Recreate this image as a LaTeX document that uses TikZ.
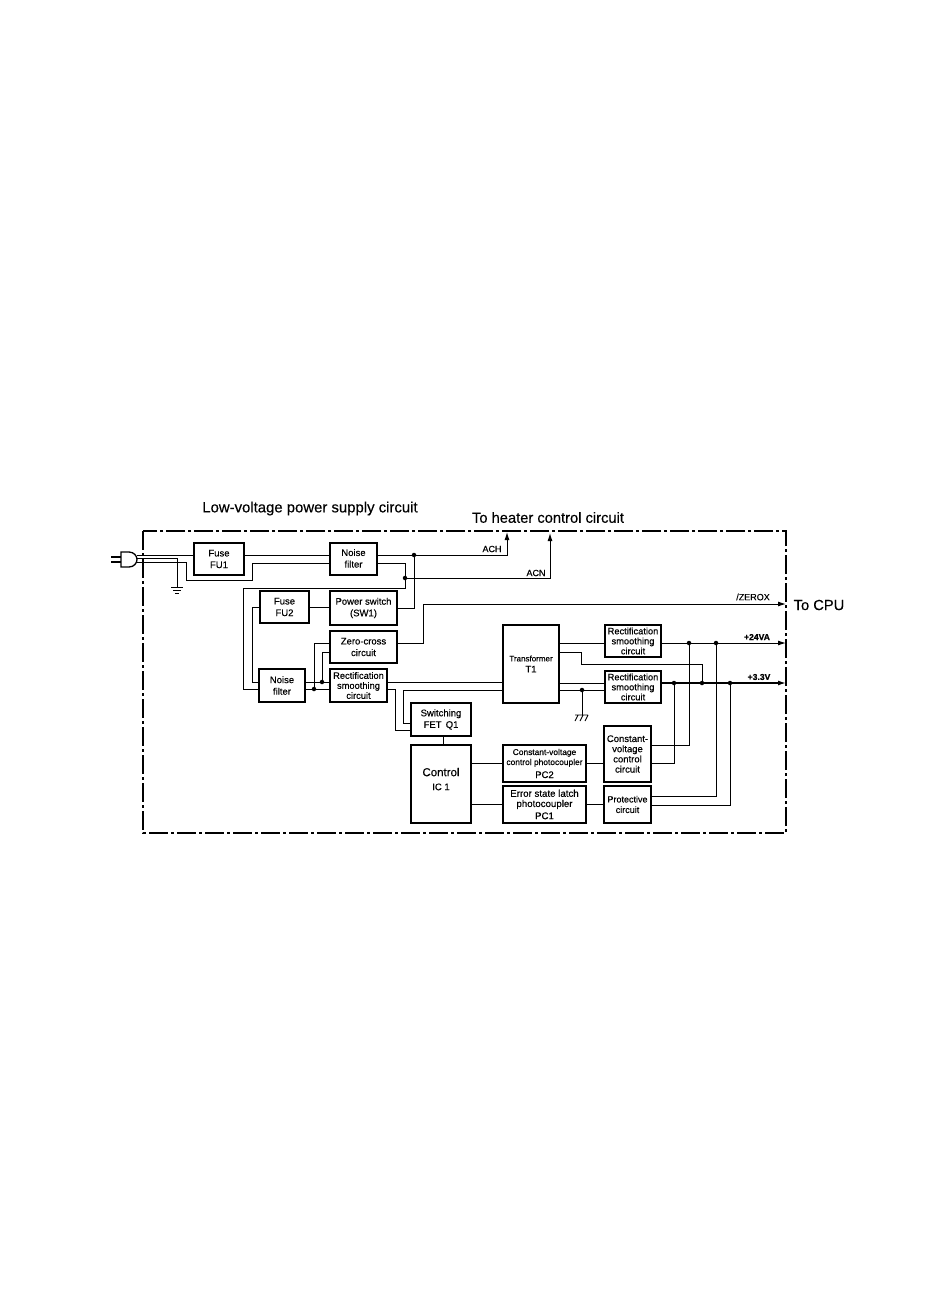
\documentclass[tikz,border=0pt]{standalone}
\usepackage{fontspec}
\setmainfont{Liberation Sans}[FakeBold=0.35]
\usetikzlibrary{arrows.meta, calc}

\begin{document}
\begin{tikzpicture}[
    x=1pt, y=-1pt,
    box/.style={draw, rectangle, line width=1.5pt, inner sep=0pt, align=center, fill=white, font=\fontsize{9.5}{11.6}\selectfont},
    rectbox/.style={box, minimum width=56pt, font=\fontsize{9.3}{10}\selectfont},
    smallbox/.style={box, font=\fontsize{8.4}{10}\selectfont},
    wire/.style={line width=0.9pt},
    arrow/.style={-{Latex[length=8pt,width=5pt]}, line width=1pt},
    dot/.style={circle, fill=black, inner sep=0pt, minimum size=4.5pt},
    labelstyle/.style={font=\fontsize{9}{10}\selectfont},
    titlestyle/.style={font=\fontsize{14.7}{16}\selectfont}
]
\useasboundingbox (0,0) rectangle (946,1310);

% Frame and titles
\draw[line width=1.3pt, dash pattern=on 19pt off 3pt on 3pt off 3pt] (143,531) rectangle (786,833);
\node[titlestyle, font=\fontsize{14.9}{16}\selectfont] (title) at (310,508.5) {Low-voltage power supply circuit};
\node[titlestyle] (heater) at (548,517.5) {To heater control circuit};
\node[titlestyle] (cpu) at (819,605) {To CPU};

% Column 1: Fuses and input filters
\node[box, minimum width=50pt, minimum height=32pt] (fuseA) at (219,559) {Fuse\\FU1};
\node[box, minimum width=47pt, minimum height=32pt] (noiseA) at (353.5,559) {\mbox{}\\[-6pt]Noise\\filter};
\node[box, minimum width=49pt, minimum height=32pt] (fuseB) at (284.5,607) {Fuse\\FU2};
\node[box, minimum width=67pt, minimum height=34pt] (switch) at (363.5,608) {Power switch\\(SW1)};
\node[box, minimum width=67pt, minimum height=32pt] (zero) at (363.5,647) {Zero-cross\\circuit};
\node[box, minimum width=46pt, minimum height=33pt] (noiseB) at (282,685.5) {Noise\\filter};
\node[rectbox, minimum width=57pt, minimum height=33pt] (rectA) at (358.5,685.5) {Rectification\\smoothing\\circuit};

% Column 2: Switching and control
\node[box, minimum width=60pt, minimum height=33pt] (fet) at (441,719.5) {Switching\\FET\, Q1};
\node[box, minimum width=60pt, minimum height=78pt, font=\fontsize{11.5}{13}\selectfont] (control) at (441,784) {Control\\[1pt]{\fontsize{9.5}{11}\selectfont IC 1}\\[-3pt]\mbox{}};

% Column 3: Transformer and photocouplers
\node[box, minimum width=56pt, minimum height=78pt, font=\fontsize{8}{11}\selectfont] (trans) at (531,664) {Transformer\\{\fontsize{9.5}{11}\selectfont T1}};
\node[smallbox, minimum width=83pt, minimum height=37pt] (pcB) at (544.5,763.5) {Constant-voltage\\control photocoupler\\[3pt]{\fontsize{9.5}{10}\selectfont PC2}};
\node[smallbox, minimum width=83pt, minimum height=37pt, font=\fontsize{9.7}{10.2}\selectfont] (pcA) at (544.5,804.5) {Error state latch\\photocoupler\\[2pt]PC1};

% Column 4: Output circuits
\node[rectbox, minimum height=32pt] (rectB) at (633,641) {Rectification\\smoothing\\circuit};
\node[rectbox, minimum height=32pt] (rectC) at (633,687) {Rectification\\smoothing\\circuit};
\node[box, minimum width=47pt, minimum height=56pt, font=\fontsize{9.5}{10.2}\selectfont] (voltage) at (627.5,754) {Constant-\\voltage\\control\\circuit};
\node[box, minimum width=47pt, minimum height=37pt, font=\fontsize{9}{10.5}\selectfont] (protect) at (627.5,804.5) {Protective\\circuit};

% Junctions
\node[dot] (achDot) at (414,555) {};
\node[dot] (acnDot) at (405,578) {};
\node[dot] (noiseDotA) at (322,682) {};
\node[dot] (noiseDotB) at (314,689) {};
\node[dot] (gndDot) at (582,690) {};
\node[dot] (busDotA) at (689,643) {};
\node[dot] (busDotB) at (716,643) {};
\node[dot] (busDotC) at (674,683) {};
\node[dot] (busDotD) at (702,683) {};
\node[dot] (busDotE) at (730,683) {};

% Free ends
\coordinate (plug) at (137,555);
\coordinate (achTip) at (507,532);
\coordinate (acnTip) at (550,533);
\coordinate (zeroxTip) at (786,604);
\coordinate (vaTip) at (786,643);
\coordinate (vTip) at (786,683);
\coordinate (earth) at (177,587);
\coordinate (chassis) at (582,715);

% Plug and earth symbols
\draw[line width=1.3pt] (121,552) -- (129,552) .. controls (134,552) and (137,556) .. (137,559.5) .. controls (137,563) and (134,567) .. (129,567) -- (121,567) -- cycle;
\draw[line width=1.1pt] (111,557) -- (121,557) (111,562) -- (121,562);
\draw[wire] (earth) ++(-6,0) -- ++(12,0) (earth) ++(-4,3) -- ++(8,0) (earth) ++(-2,6) -- ++(4,0);
\draw[wire] (chassis) ++(-7,0) -- ++(13,0) (chassis) ++(-7,6) -- ++(3,-6) (chassis) ++(-2,6) -- ++(3,-6) (chassis) ++(3,6) -- ++(3,-6);

% Connections: input side
\draw[wire] (plug) -- (fuseA.west |- plug);
\draw[wire] (137,558) -| (earth);
\draw[wire] (137,562) -| (186,580) -| (252,563) -- (noiseA.west |- 0,563);
\draw[wire] (fuseA.east |- 0,555) -- (noiseA.west |- 0,555);
\draw[wire] (noiseA.east |- 0,555) -- (achDot);
\draw[arrow] (achDot) -| (achTip);
\draw[wire] (achDot) |- (switch.east |- 0,608);
\draw[wire] (noiseA.east |- 0,563) -| (acnDot);
\draw[arrow] (acnDot) -| (acnTip);
\draw[wire] (acnDot) |- (243,588) |- (noiseB.west |- 0,689);
\draw[wire] (fuseB.east |- 0,607) -- (switch.west |- 0,607);
\draw[wire] (fuseB.west |- 0,607) -| (252,682) -- (noiseB.west |- 0,682);

% Connections: primary side
\draw[wire] (noiseB.east |- 0,682) -- (rectA.west |- 0,682);
\draw[wire] (noiseB.east |- 0,689) -- (rectA.west |- 0,689);
\draw[wire] (noiseDotB) |- (zero.west |- 0,643);
\draw[wire] (noiseDotA) |- (zero.west |- 0,652);
\draw[wire] (rectA.east |- 0,682) -- (trans.west |- 0,682);
\draw[wire] (rectA.east |- 0,689) -| (395,730) -- (fet.west |- 0,730);
\draw[wire] (trans.west |- 0,690) -| (403,723) -- (fet.west |- 0,723);
\draw[wire] (fet.south -| 443,0) -- (control.north -| 443,0);
\draw[wire] (control.east |- 0,763) -- (pcB.west |- 0,763);
\draw[wire] (control.east |- 0,804) -- (pcA.west |- 0,804);
\draw[wire] (pcB.east |- 0,763) -- (voltage.west |- 0,763);
\draw[wire] (pcA.east |- 0,804) -- (protect.west |- 0,804);

% Connections: outputs
\draw[arrow] (zero.east |- 0,643) -| (423,604) -- (zeroxTip);
\draw[wire] (trans.east |- 0,643) -- (rectB.west |- 0,643);
\draw[wire] (trans.east |- 0,652) -| (581,664) -| (busDotD);
\draw[wire] (trans.east |- 0,683) -- (rectC.west |- 0,683);
\draw[wire] (trans.east |- 0,690) -- (rectC.west |- 0,690);
\draw[wire] (gndDot) -- (chassis);
\draw[arrow] (rectB.east |- vaTip) -- (vaTip);
\draw[arrow, line width=1.4pt] (rectC.east |- vTip) -- (vTip);
\draw[wire] (voltage.east |- 0,745) -| (busDotA);
\draw[wire] (voltage.east |- 0,763) -| (busDotC);
\draw[wire] (protect.east |- 0,796) -| (busDotB);
\draw[wire] (protect.east |- 0,805) -| (busDotE);

% Signal labels
\node[labelstyle] (ach) at (492,549) {ACH};
\node[labelstyle] (acn) at (536,573) {ACN};
\node[labelstyle] (zerox) at (753,597) {/ZEROX};
\node[labelstyle, font=\bfseries\fontsize{8.6}{10}\selectfont] (va) at (757,637) {+24VA};
\node[labelstyle, font=\bfseries\fontsize{8.6}{10}\selectfont] (v) at (759,677) {+3.3V};

\end{tikzpicture}
\end{document}
